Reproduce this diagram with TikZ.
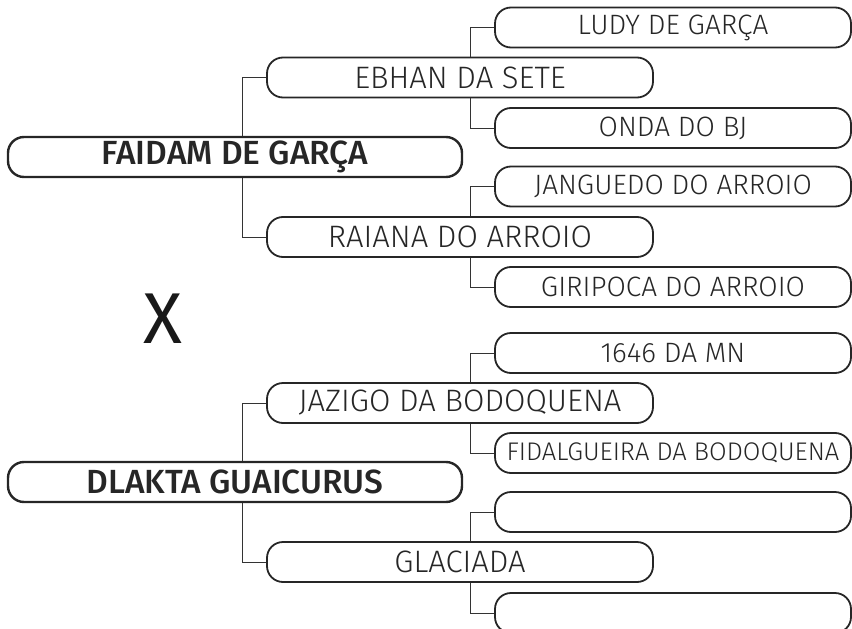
\documentclass[tikz,border=0pt]{standalone}
\usepackage{fontspec}
\setmainfont{Fira Sans Light}[BoldFont={Fira Sans Medium}]
\newfontfamily\crossfont{Fira Sans}
\usetikzlibrary{positioning}

\tikzset{
    namebox/.style={draw=black!85, text=black!85, rounded corners=16pt,
        inner sep=0pt, minimum height=40pt, align=center},
    rootbox/.style={namebox, line width=2.4pt, minimum width=454pt,
        font=\bfseries\fontsize{33.5}{36}\selectfont},
    parentbox/.style={namebox, line width=1.8pt, minimum width=386pt,
        font=\fontsize{31}{34}\selectfont},
    grandbox/.style={namebox, line width=1.8pt, minimum width=356pt,
        font=\fontsize{28}{31}\selectfont},
    link/.style={draw=black!80, line width=1pt}
}

\begin{document}
\begin{tikzpicture}[x=1pt, y=-1pt]
    \useasboundingbox (0,0) rectangle (852,629);

    % first parent and its line
    \node[rootbox] (faidam) at (235,157) {FAIDAM DE GARÇA};
    \node[parentbox] (ebhan) at (460,77.5) {EBHAN DA SETE};
    \node[parentbox] (raiana) at (460,237) {RAIANA DO ARROIO};
    \node[grandbox] (ludy) at (673,27.5) {LUDY DE GARÇA};
    \node[grandbox] (onda) at (673,128) {ONDA DO BJ};
    \node[grandbox] (janguedo) at (673,186.5) {JANGUEDO DO ARROIO};
    \node[grandbox] (giripoca) at (673,287) {GIRIPOCA DO ARROIO};

    \node[text=black!90, font=\crossfont\fontsize{72}{72}\selectfont] (cross) at (163,319) {X};

    % second parent and its line
    \node[rootbox] (dlakta) at (235,482) {DLAKTA GUAICURUS};
    \node[parentbox] (jazigo) at (460,403) {JAZIGO DA BODOQUENA};
    \node[parentbox] (glaciada) at (460,562) {GLACIADA};
    \node[grandbox] (mn) at (673,353) {1646 DA MN};
    \node[grandbox, font=\fontsize{25.5}{28}\selectfont] (fidalgueira) at (673,453) {FIDALGUEIRA DA BODOQUENA};
    \node[grandbox] (blanka) at (673,512) {};
    \node[grandbox] (blankb) at (673,613) {};

    % connectors
    \foreach \root/\up/\down in {faidam/ebhan/raiana, dlakta/jazigo/glaciada} {
        \draw[link] ([xshift=-24pt]\up.west |- \root.north) |- (\up.west);
        \draw[link] ([xshift=-24pt]\down.west |- \root.south) |- (\down.west);
    }
    \foreach \mid/\up/\down in {ebhan/ludy/onda, raiana/janguedo/giripoca,
                               jazigo/mn/fidalgueira, glaciada/blanka/blankb} {
        \draw[link] ([xshift=-24pt]\up.west |- \mid.north) |- (\up.west);
        \draw[link] ([xshift=-24pt]\down.west |- \mid.south) |- (\down.west);
    }
\end{tikzpicture}
\end{document}
